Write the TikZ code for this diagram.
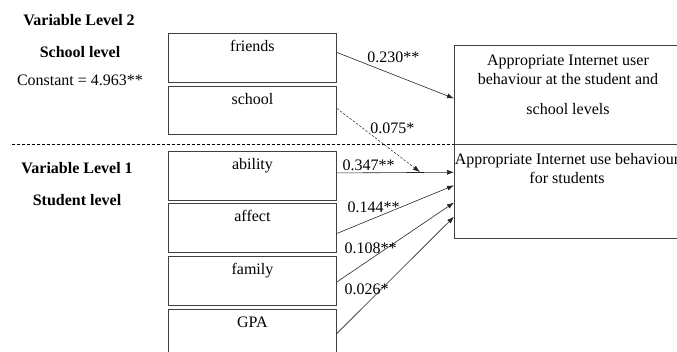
\documentclass[tikz,border=0pt]{standalone}
\usepackage{fontspec}
\setmainfont{Liberation Serif}
\usetikzlibrary{arrows.meta,calc}

\tikzset{
  varbox/.style={draw=black!75, line width=0.9pt, minimum width=168pt, minimum height=#1, anchor=north west, inner sep=0pt},
  varname/.style={anchor=north, inner sep=0pt, text height=11pt, text depth=3pt, yshift=-7pt},
  outbox/.style={draw=black!75, line width=0.9pt, minimum width=270pt, minimum height=#1, anchor=north west, inner sep=0pt},
  effect/.style={-{Latex[length=7pt,width=5pt]}, line width=0.6pt, draw=black!85},
  coef/.style={inner sep=0pt, fill=none},
  levelhead/.style={font=\fontsize{16}{19}\selectfont\bfseries, inner sep=0pt}
}

\begin{document}
\begin{tikzpicture}[x=1pt, y=-1pt, font=\fontsize{16}{19}\selectfont]
	\clip (0,0) rectangle (677,352);
	
	% level headings
	\node[levelhead] (lvtwo) at (79,20) {Variable Level 2};
	\node[levelhead] (schlv) at (80,52) {School level};
	\node[inner sep=0pt] (const) at (80,80) {Constant = 4.963**};
	\node[levelhead] (lvone) at (77,168) {Variable Level 1};
	\node[levelhead] (stdlv) at (77,200) {Student level};
	
	% level 2 variables
	\node[varbox=49pt] (friends) at (168,33) {};
	\node[varname] (friendsname) at (friends.north) {friends};
	\node[varbox=48pt] (school) at (168,86) {};
	\node[varname] (schoolname) at (school.north) {school};
	
	% level 1 variables
	\foreach \v/\y in {ability/151, affect/203, family/256, GPA/309}{
		\node[varbox=49pt] (\v) at (168,\y) {};
		\node[varname] (\v name) at (\v.north) {\v};
	}
	
	% outcome boxes
	\node[outbox=99pt] (upper) at (454,45) {};
	\node[outbox=94pt] (lower) at (454,144) {};
	\node[align=center, inner sep=0pt] (uppertext) at (568,85) {Appropriate Internet user\\behaviour at the student and\\[11pt]school levels};
	\node[align=center, inner sep=0pt] (lowertext) at (567,168.5) {Appropriate Internet use behaviour\\for students};
	
	% level separator
	\coordinate (sepstart) at (12,144);
	\draw[line width=0.6pt, dash pattern=on 3pt off 2pt] (sepstart) -- (lower.north west);
	
	% effects
	\coordinate (schoolend) at (420,172);
	\draw[effect] ($(friends.east)+(0,-5.5)$) -- ($(upper.north west)!0.535!(upper.south west)$)
		node[coef, pos=0.483, yshift=17pt] (cfriends) {0.230**};
	\draw[effect, line width=0.5pt, dash pattern=on 2.5pt off 1.5pt] ($(school.east)+(0,-2)$) -- (schoolend)
		node[coef, pos=0.667, yshift=22.5pt] (cschool) {0.075*};
	\draw[effect] ($(ability.east)+(0,-3)$) -- ($(lower.north west)!0.298!(lower.south west)$)
		node[coef, pos=0.271, yshift=7pt] (cability) {0.347**};
	\draw[effect] ($(affect.east)+(0,5.5)$) -- ($(lower.north west)!0.436!(lower.south west)$)
		node[coef, pos=0.314, yshift=11pt] (caffect) {0.144**};
	\draw[effect] ($(family.east)+(0,1)$) -- ($(lower.north west)!0.617!(lower.south west)$)
		node[coef, pos=0.288, yshift=11pt] (cfamily) {0.108**};
	\draw[effect] ($(GPA.east)+(0,-0.5)$) -- ($(lower.north west)!0.766!(lower.south west)$)
		node[coef, pos=0.254, yshift=15pt] (cGPA) {0.026*};
	
\end{tikzpicture}
\end{document}
